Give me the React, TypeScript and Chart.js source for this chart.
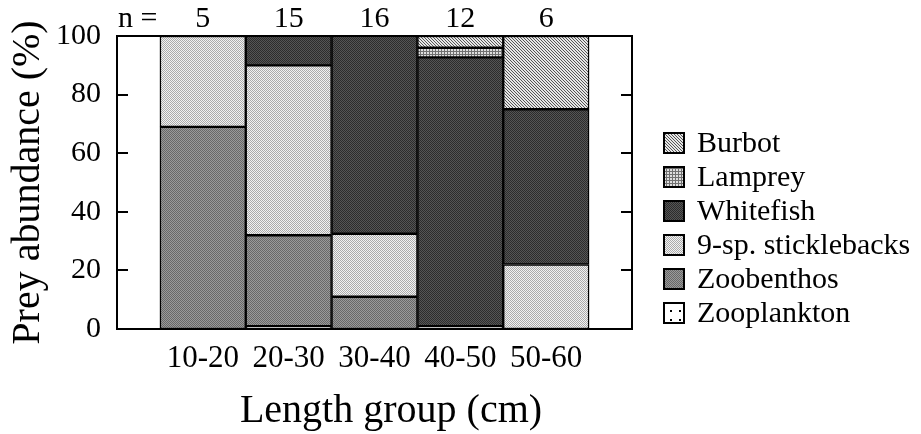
import React, { useEffect, useRef } from "react";
import { Chart, registerables } from "chart.js";

Chart.register(...registerables);

const categories = ["10-20", "20-30", "30-40", "40-50", "50-60"];
const sampleSizes = [5, 15, 16, 12, 6];
const yTicks = [0, 20, 40, 60, 80, 100];

const zooplankton = [null, 1, null, 1, null];
const zoobenthos = [69, 31, 11, null, null];
const sticklebacks = [31, 58, 21.5, null, 22];
const whitefish = [null, 10, 67.5, 91.7, 53];
const lamprey = [null, null, null, 3.3, null];
const burbot = [null, null, null, 4, 25];

const seriesNames = ["Zooplankton", "Zoobenthos", "9-sp. sticklebacks", "Whitefish", "Lamprey", "Burbot"];
const seriesValues = [zooplankton, zoobenthos, sticklebacks, whitefish, lamprey, burbot];

const FONT = "'Liberation Serif', 'Times New Roman', serif";

function makePattern(kind: string): CanvasPattern | string {
  const c = document.createElement("canvas");
  const ctx = c.getContext("2d")!;
  if (kind === "Zooplankton") {
    c.width = 9; c.height = 9;
    ctx.fillStyle = "#ffffff"; ctx.fillRect(0, 0, 9, 9);
    ctx.fillStyle = "#000000"; ctx.fillRect(4, 4, 2, 2);
  } else if (kind === "Zoobenthos") {
    c.width = 2; c.height = 2;
    ctx.fillStyle = "#9a9a9a"; ctx.fillRect(0, 0, 2, 2);
    ctx.fillStyle = "#686868"; ctx.fillRect(0, 0, 1, 1); ctx.fillRect(1, 1, 1, 1);
  } else if (kind === "9-sp. sticklebacks") {
    c.width = 2; c.height = 2;
    ctx.fillStyle = "#f2f2f2"; ctx.fillRect(0, 0, 2, 2);
    ctx.fillStyle = "#ababab"; ctx.fillRect(0, 0, 1, 1); ctx.fillRect(1, 1, 1, 1);
  } else if (kind === "Whitefish") {
    c.width = 2; c.height = 2;
    ctx.fillStyle = "#555555"; ctx.fillRect(0, 0, 2, 2);
    ctx.fillStyle = "#2c2c2c"; ctx.fillRect(0, 0, 1, 1); ctx.fillRect(1, 1, 1, 1);
  } else if (kind === "Lamprey") {
    c.width = 3; c.height = 3;
    ctx.fillStyle = "#dedede"; ctx.fillRect(0, 0, 3, 3);
    ctx.fillStyle = "#707070"; ctx.fillRect(0, 0, 3, 1); ctx.fillRect(0, 0, 1, 3);
  } else {
    c.width = 3; c.height = 3;
    ctx.fillStyle = "#e6e6e6"; ctx.fillRect(0, 0, 3, 3);
    ctx.fillStyle = "#555555";
    for (let i = 0; i < 3; i++) ctx.fillRect(i, i, 1, 1);
  }
  const p = ctx.createPattern(c, "repeat");
  return p || "#888";
}

const framePlugin = {
  id: "frameAndExtras",
  afterDatasetsDraw(chart: any) {
    const { ctx, chartArea } = chart;
    const y = chart.scales.y;
    const x = chart.scales.x;
    ctx.save();
    ctx.strokeStyle = "#000";
    ctx.lineWidth = 2;
    ctx.strokeRect(chartArea.left, chartArea.top, chartArea.right - chartArea.left, chartArea.bottom - chartArea.top);
    yTicks.forEach((v) => {
      if (v === 0 || v === 100) return;
      const py = Math.round(y.getPixelForValue(v));
      ctx.beginPath();
      ctx.moveTo(chartArea.left, py);
      ctx.lineTo(chartArea.left + 11, py);
      ctx.moveTo(chartArea.right, py);
      ctx.lineTo(chartArea.right - 11, py);
      ctx.stroke();
    });
    // n labels
    ctx.fillStyle = "#000";
    ctx.font = `30px ${FONT}`;
    ctx.textBaseline = "alphabetic";
    ctx.textAlign = "left";
    ctx.fillText("n =", chartArea.left + 1, 27);
    ctx.textAlign = "center";
    sampleSizes.forEach((n, i) => {
      const px = x.getPixelForValue(i + 1);
      ctx.fillText(String(n), px, 27);
    });
    // x title
    ctx.font = `40px ${FONT}`;
    ctx.textAlign = "center";
    ctx.fillText("Length group (cm)", 391, 422);
    // legend
    const ds = chart.data.datasets;
    ctx.textAlign = "left";
    ctx.font = `30px ${FONT}`;
    for (let k = 0; k < ds.length; k++) {
      const d = ds[ds.length - 1 - k];
      const cy = 143 + k * 34;
      const bx = 663, by = cy - 11, bs = 22;
      ctx.fillStyle = d.backgroundColor;
      ctx.fillRect(bx, by, bs, bs);
      ctx.lineWidth = 2;
      ctx.strokeStyle = "#000";
      ctx.strokeRect(bx + 1, by + 1, bs - 2, bs - 2);
      ctx.fillStyle = "#000";
      ctx.fillText(d.label, 697, cy + 9);
    }
    ctx.restore();
  },
};

export default function App() {
  const ref = useRef<HTMLCanvasElement | null>(null);
  useEffect(() => {
    if (!ref.current) return;
    const labels = ["", ...categories, ""];
    const datasets = seriesNames.map((name, i) => ({
      label: name,
      data: [null, ...seriesValues[i], null],
      backgroundColor: makePattern(name),
      borderColor: "#000",
      borderWidth: 1.5,
      borderSkipped: false,
      categoryPercentage: 1,
      barPercentage: 1,
    }));
    const chart = new Chart(ref.current, {
      type: "bar",
      data: { labels, datasets: datasets as any },
      options: {
        animation: false,
        responsive: false,
        maintainAspectRatio: false,
        layout: { padding: { top: 36, right: 289, left: 0, bottom: 0 } },
        plugins: { legend: { display: false }, tooltip: { enabled: false } },
        scales: {
          x: {
            stacked: true,
            offset: false,
            grid: { display: false, drawTicks: false },
            border: { display: false },
            ticks: { color: "#000", font: { family: FONT, size: 31 }, padding: 11, maxRotation: 0, autoSkip: false },
            afterFit: (s: any) => { s.height = 105; },
          },
          y: {
            stacked: true,
            min: 0,
            max: 100,
            grid: { display: false, drawTicks: false },
            border: { display: false },
            ticks: { color: "#000", font: { family: FONT, size: 30 }, padding: 16, stepSize: 20 },
            title: { display: true, text: "Prey abundance (%)", color: "#000", font: { family: FONT, size: 40 }, padding: { top: 4, bottom: 0 } },
            afterFit: (s: any) => { s.width = 117; },
          },
        },
      },
      plugins: [framePlugin],
    });
    return () => chart.destroy();
  }, []);
  return (
    <div style={{ position: "absolute", left: 0, top: 0, width: 921, height: 434, background: "#fff" }}>
      <canvas ref={ref} width={921} height={434} style={{ display: "block", width: 921, height: 434 }} />
    </div>
  );
}
